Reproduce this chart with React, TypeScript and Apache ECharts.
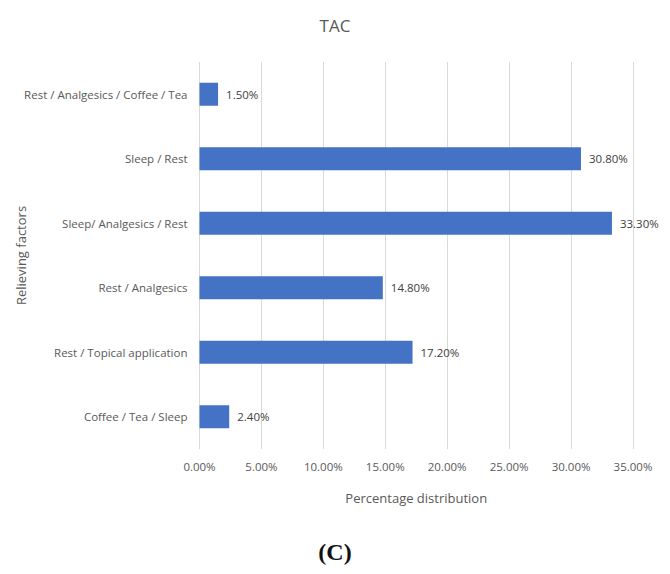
import React, { useEffect, useRef } from "react";
import * as echarts from "echarts";

const categories = [
  "Coffee / Tea / Sleep",
  "Rest / Topical application",
  "Rest / Analgesics",
  "Sleep/ Analgesics / Rest",
  "Sleep / Rest",
  "Rest / Analgesics / Coffee / Tea",
];
const percentages = [2.4, 17.2, 14.8, 33.3, 30.8, 1.5];
const xTicks = [0, 5, 10, 15, 20, 25, 30, 35];

const FONT = "'Open Sans', 'Noto Sans', sans-serif";
const TEXT = "#595959";

export default function App() {
  const ref = useRef<HTMLDivElement>(null);

  useEffect(() => {
    document.body.style.margin = "0";
    if (!ref.current) return;
    const chart = echarts.init(ref.current, null, { renderer: "svg" });
    chart.setOption({
      animation: false,
      backgroundColor: "#ffffff",
      title: {
        text: "TAC",
        left: "center",
        top: 12,
        textStyle: { fontFamily: FONT, fontSize: 17, fontWeight: "normal", color: TEXT },
      },
      grid: { left: 199.5, right: 37, top: 62, bottom: 125, containLabel: false },
      xAxis: {
        type: "value",
        min: xTicks[0],
        max: xTicks[xTicks.length - 1],
        interval: 5,
        name: "Percentage distribution",
        nameLocation: "middle",
        nameGap: 42,
        nameMoveOverlap: false,
        nameTextStyle: { fontFamily: FONT, fontSize: 13, color: TEXT },
        axisLine: { show: false },
        axisTick: { show: false },
        axisLabel: {
          fontFamily: FONT,
          fontSize: 11.5,
          color: TEXT,
          margin: 11,
          formatter: (v: number) => v.toFixed(2) + "%",
        },
        splitLine: { show: true, lineStyle: { color: "#d9d9d9", width: 1 } },
      },
      yAxis: {
        type: "category",
        data: categories,
        name: "Relieving factors",
        nameLocation: "middle",
        nameRotate: 90,
        nameGap: 172,
        nameMoveOverlap: false,
        nameTextStyle: { fontFamily: FONT, fontSize: 13, color: TEXT },
        axisLine: { show: false },
        axisTick: { show: false },
        axisLabel: { fontFamily: FONT, fontSize: 11.5, color: TEXT, margin: 12 },
        splitLine: { show: false },
      },
      series: [
        {
          type: "bar",
          data: percentages,
          barWidth: 23,
          itemStyle: { color: "#4472c4" },
          label: {
            show: true,
            position: "right",
            distance: 8,
            fontFamily: FONT,
            fontSize: 11.5,
            color: "#404040",
            formatter: (p: any) => Number(p.value).toFixed(2) + "%",
          },
        },
      ],
      graphic: [
        {
          type: "text",
          left: "center",
          top: 540,
          style: {
            text: "(C)",
            font: "bold 24px 'Liberation Serif', 'DejaVu Serif', serif",
            fill: "#111111",
          },
        },
      ],
    });
    return () => chart.dispose();
  }, []);

  return <div ref={ref} style={{ width: 670, height: 574 }} />;
}
